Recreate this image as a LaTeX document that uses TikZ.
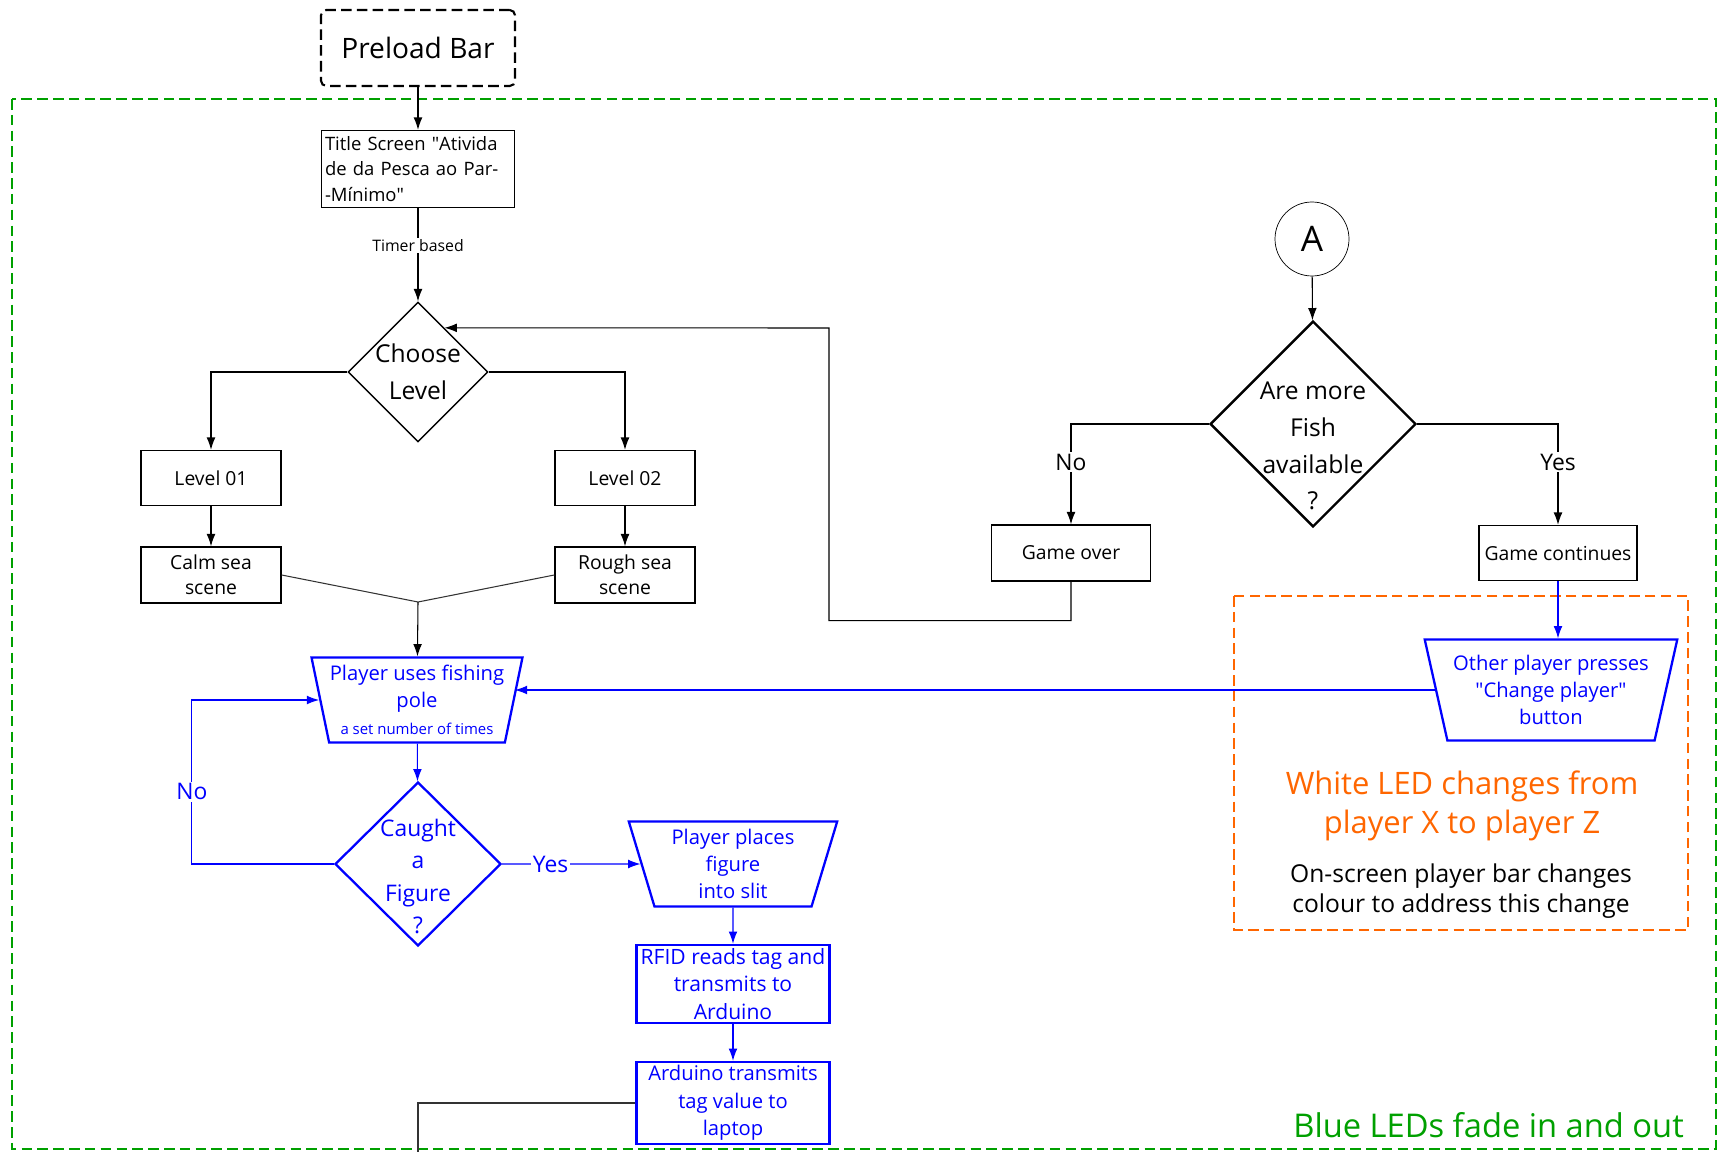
\documentclass[tikz,border=0pt]{standalone}
\usepackage{fontspec}
\setmainfont{Open Sans}
\usetikzlibrary{shapes.geometric}
\usetikzlibrary{positioning}
\usetikzlibrary{arrows.meta}
\definecolor{fblue}{RGB}{0,0,255}
\definecolor{forange}{RGB}{255,102,0}
\definecolor{fgreen}{RGB}{0,160,0}
\tikzset{
    preload/.style = {rectangle, rounded corners=3pt, line width=1.2pt, draw=black, dash pattern=on 6pt off 3pt, minimum width=3.88cm, minimum height=1.52cm, font=\fontsize{16}{19}\selectfont},
    box/.style = {rectangle, thick, draw=black, align=center, minimum width=2.8cm, minimum height=1.1cm, inner sep=2pt, font=\fontsize{11}{14.5}\selectfont},
    boxb/.style = {box, draw=fblue, text=fblue, line width=1.3pt, font=\fontsize{11.5}{15.6}\selectfont},
    decide/.style = {diamond, thick, draw=black, align=center, inner sep=-14pt, aspect=1, font=\fontsize{14}{21}\selectfont},
    decideb/.style = {decide, draw=fblue, text=fblue, line width=1.3pt, font=\fontsize{13}{18.5}\selectfont},
    inputb/.style = {trapezium, trapezium stretches=true, shape border rotate=180, draw=fblue, text=fblue, line width=1.3pt, align=center, inner sep=0pt, font=\fontsize{11.5}{15.5}\selectfont},
    conn/.style = {circle, draw=black, minimum size=1.48cm, inner sep=0pt, font=\fontsize{20}{24}\selectfont},
    edgen/.style = {-{Latex[length=7pt,width=5pt]}, semithick},
    edgeb/.style = {-{Latex[length=7pt,width=5pt]}, semithick, fblue},
    edgep/.style = {semithick, black!80},
    lbl/.style = {fill=white, inner sep=1pt, font=\fontsize{13}{15}\selectfont},
    lblb/.style = {lbl, text=fblue},
}
\begin{document}
\begin{tikzpicture}[x=0.2mm, y=-0.2mm]
\useasboundingbox (0,0) rectangle (1722,1152);
% frames
\draw[fgreen, thick, dash pattern=on 6pt off 3pt] (12,99) rectangle (1716,1149);
\draw[forange, thick, dash pattern=on 6pt off 3pt] (1234,596) rectangle (1688,930);
% left column
\node[preload] at (418,48) (pre) {Preload Bar};
\node[box, align=left, text width=3.72cm, minimum height=1.54cm, font=\fontsize{10.5}{14.7}\selectfont] at (418,169) (title) {Title Screen \textquotedbl Ativida\\de da Pesca ao Par-\\-Mínimo\textquotedbl};
\node[decide, minimum size=2.8cm] at (418,372) (choose) {Choose\\Level};
\node[box] at (211,478) (l1) {Level 01};
\node[box] at (625,478) (l2) {Level 02};
\node[box, minimum height=1.12cm] at (211,575) (calm) {Calm sea\\scene};
\node[box, minimum height=1.12cm] at (625,575) (rough) {Rough sea\\scene};
\coordinate (join) at (418,602);
\node[inputb, minimum width=4.22cm, minimum height=1.7cm, trapezium angle=76] at (417,700) (fish) {Player uses fishing\\pole\\{\fontsize{8.5}{10}\selectfont a set number of times}};
\node[decideb, minimum width=3.32cm, minimum height=3.28cm] at (418,864) (caught) {\rule{0pt}{24pt}Caught\\a\\Figure\\?};
\node[inputb, minimum width=4.2cm, minimum height=1.7cm, trapezium angle=74] at (733,864) (places) {Player places\\figure\\into slit};
\node[boxb, minimum width=3.86cm, minimum height=1.52cm, font=\fontsize{12}{15.6}\selectfont] at (733,984) (rfid) {RFID reads tag and\\transmits to\\Arduino};
\node[boxb, minimum width=3.86cm, minimum height=1.54cm] at (733,1103) (ard) {Arduino transmits\\tag value to\\laptop};
\coordinate (down) at (418,1152);
% right part
\node[conn] at (1312,239) (ca) {A};
\node[decide, line width=1.4pt, minimum size=4.12cm] at (1313,424) (more) {\rule{0pt}{35pt}Are more\\Fish\\available\\?};
\node[box, minimum width=3.18cm, minimum height=1.12cm] at (1071,553) (over) {Game over};
\node[box, minimum width=3.16cm] at (1558,553) (cont) {Game continues};
\node[inputb, minimum width=5.06cm, minimum height=2.02cm, trapezium angle=73] at (1551,690) (other) {Other player presses\\\textquotedbl Change player\textquotedbl\\button};
\node[text=forange, align=center, font=\fontsize{17.6}{22.5}\selectfont] at (1462,806) (led) {White LED changes from\\player X to player Z};
\node[align=center, font=\fontsize{14}{17.5}\selectfont] at (1461,891) (bar) {On-screen player bar changes\\colour to address this change};
\node[text=fgreen, anchor=east, font=\fontsize{18.6}{22}\selectfont] at (1690,1125) (fade) {Blue LEDs fade in and out};
%
\draw[edgen] (pre) -- (title);
\draw[edgen] (title) -- node[pos=0.4, fill=white, inner sep=1pt, font=\fontsize{9}{11}\selectfont] {Timer based} (choose);
\draw[edgen] (choose.west) -| (l1);
\draw[edgen] (choose.east) -| (l2);
\draw[edgen] (l1) -- (calm);
\draw[edgen] (l2) -- (rough);
\draw[edgep] (calm.east) -- (join) -- (rough.west);
\draw[edgen] (join) -- (fish);
\draw[edgeb] (fish) -- (caught);
\draw[edgeb] (caught.west) -- ++(-142,0) |- node[pos=0.22, lblb] {No} (fish);
\draw[edgeb] (caught.east) -- node[pos=0.35, lblb] {Yes} (places);
\draw[edgeb] (places) -- (rfid);
\draw[edgeb] (rfid) -- (ard);
\draw[edgep] (ard.west) -| (down);
%
\draw[edgen] (ca) -- (more);
\draw[edgen] (more.west) -| node[pos=0.69, lbl] {No} (over);
\draw[edgen] (more.east) -| node[pos=0.69, lbl] {Yes} (cont);
\draw[edgen] (over.south) -- ++(0,39) -| (829,328) -- (choose.59);
\draw[edgeb] (cont.south) -- (cont.south |- other.90);
\draw[edgeb] (other.180) -- (other.180 -| fish.0);

\end{tikzpicture}
\end{document}
